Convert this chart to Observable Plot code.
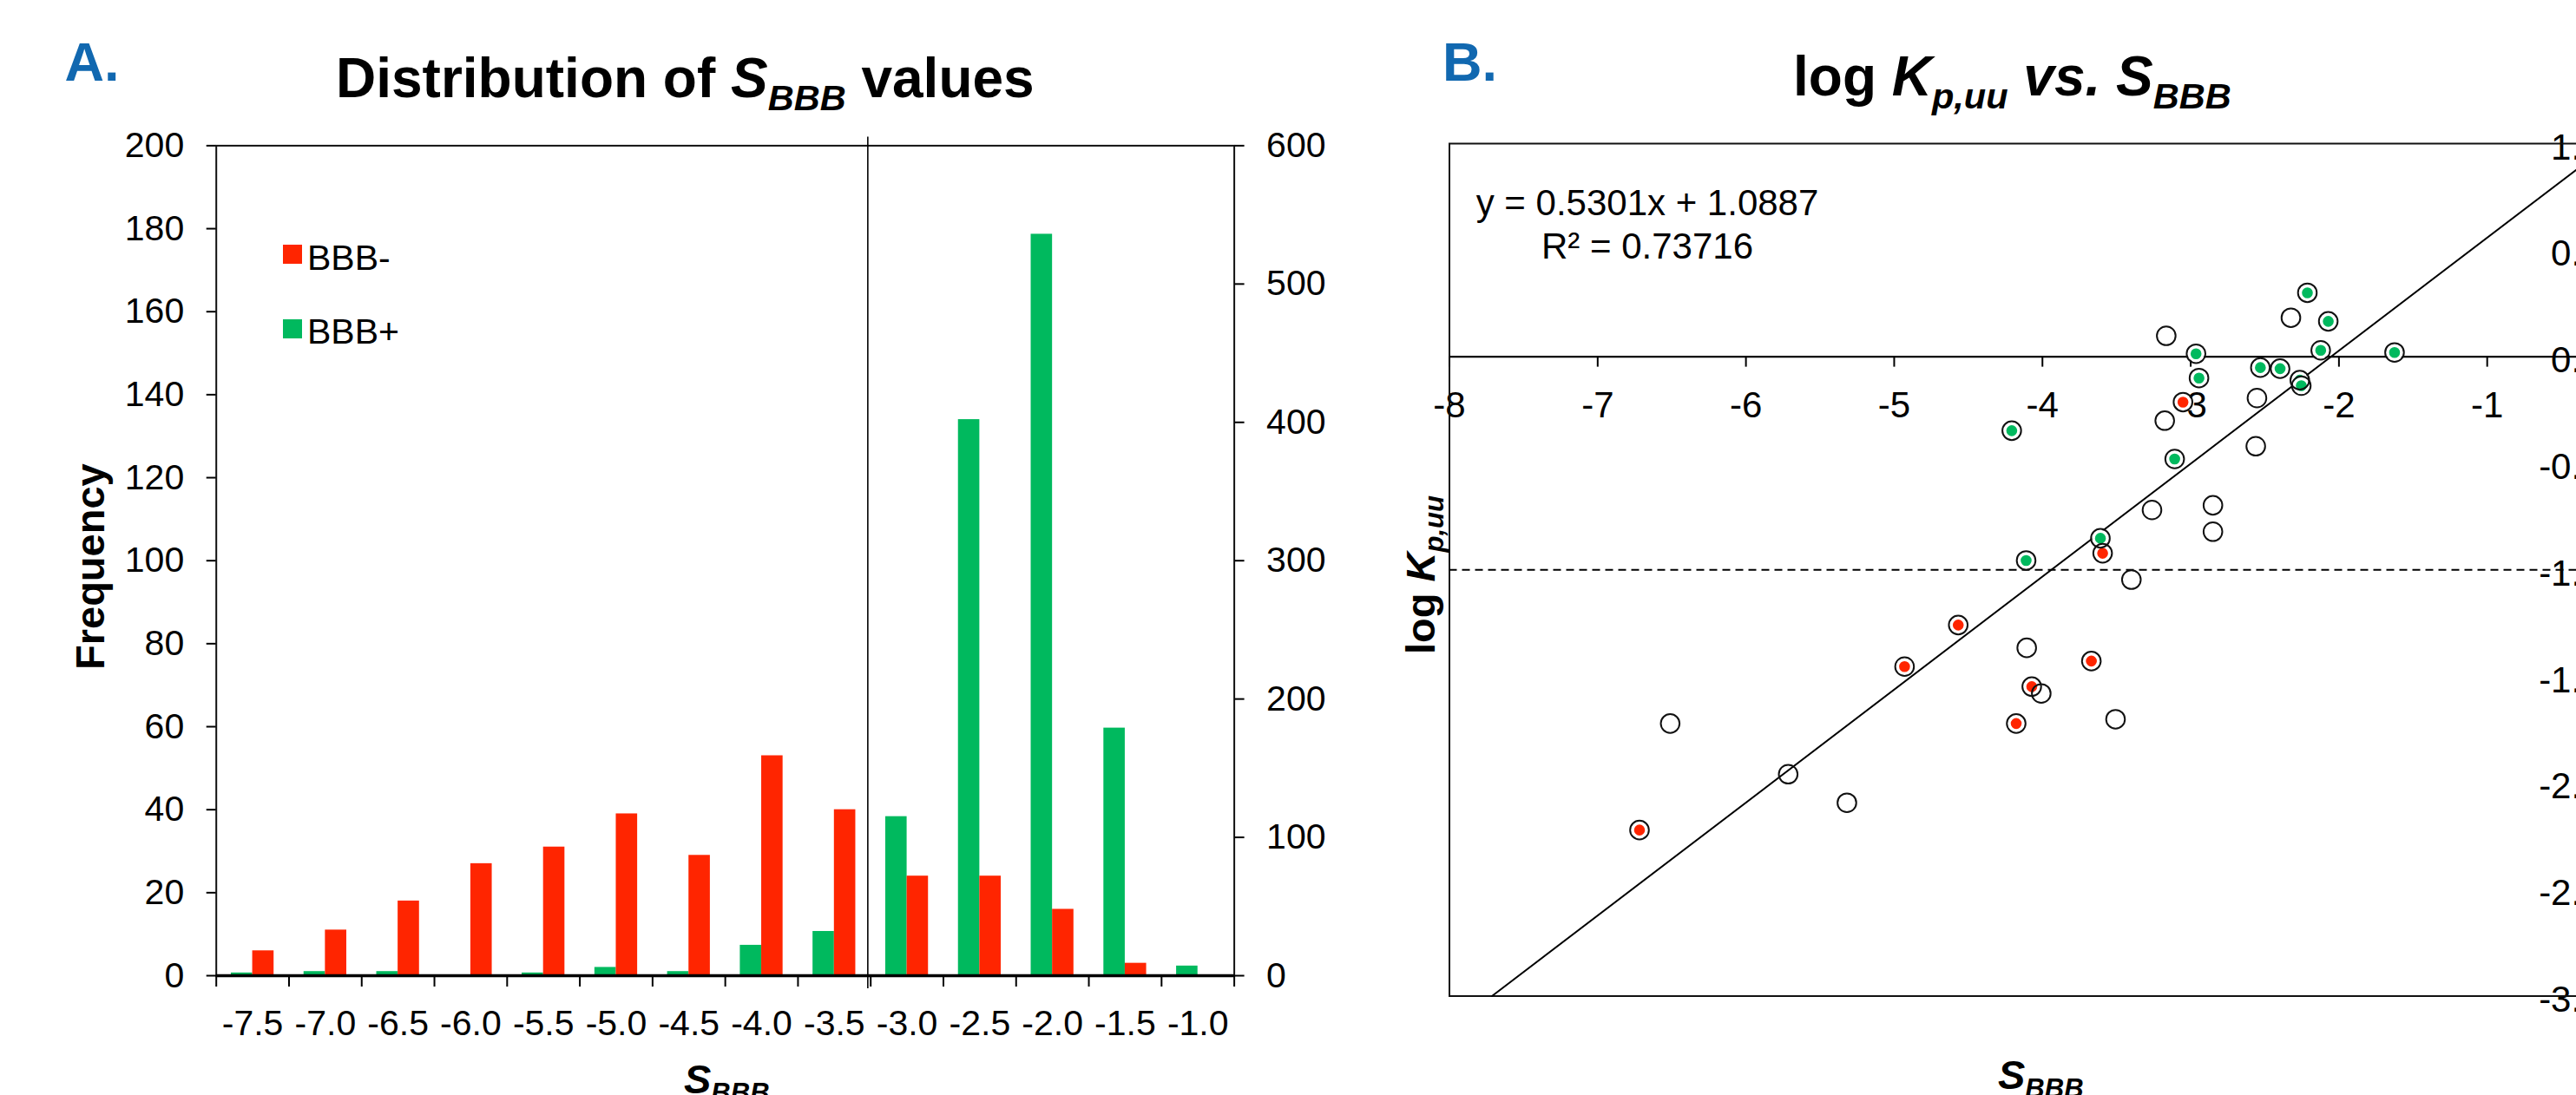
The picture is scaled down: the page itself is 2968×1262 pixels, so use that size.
<!DOCTYPE html>
<html>
<head>
<meta charset="utf-8">
<script src="https://cdn.jsdelivr.net/npm/d3@7"></script>
<script src="https://cdn.jsdelivr.net/npm/@observablehq/plot@0.6"></script>
<style>
  html, body { margin: 0; padding: 0; background: #fff; overflow: hidden; }
  #page { position: relative; width: 2968px; height: 1262px; overflow: hidden; background: #fff; }
</style>
</head>
<body>
<div id="page"></div>
<script>
// ---------------- Panel A data: distribution of S_BBB ----------------
const sbbbBins = [-7.5, -7.0, -6.5, -6.0, -5.5, -5.0, -4.5, -4.0, -3.5, -3.0, -2.5, -2.0, -1.5, -1.0];
const binLabels = ["-7.5", "-7.0", "-6.5", "-6.0", "-5.5", "-5.0", "-4.5", "-4.0", "-3.5", "-3.0", "-2.5", "-2.0", "-1.5", "-1.0"];
const binEdges = [-7.75, -7.25, -6.75, -6.25, -5.75, -5.25, -4.75, -4.25, -3.75, -3.25, -2.75, -2.25, -1.75, -1.25, -0.75];
const countBBBminus = [6, 11, 18, 27, 31, 39, 29, 53, 40, 24, 24, 16, 3, 0];      // left axis
const countBBBplus = [2, 3, 3, 0, 2, 6, 3, 22, 32, 115, 402, 536, 179, 7];       // right axis
const freqTicksLeft = [0, 20, 40, 60, 80, 100, 120, 140, 160, 180, 200];
const freqTicksRight = [0, 100, 200, 300, 400, 500, 600];
const rightFactor = 3; // 600 / 200
const sbbbDivider = -3.27;

// ---------------- Panel B data: log Kp,uu vs S_BBB ----------------
const sbbb = [-4.207, -2.964, -2.944, -3.052, -3.165, -3.175, -3.108, -2.553, -2.561, -2.530,
              -2.397, -2.264, -2.254, -2.123, -2.213, -2.324, -2.072, -1.625, -3.261, -2.850,
              -2.850, -3.609, -3.594, -4.110, -3.400, -4.106, -3.670, -4.072, -4.008, -4.568,
              -4.930, -4.177, -6.511, -5.715, -5.319, -6.718, -3.507];
const logKpuu = [-0.347, 0.014, -0.100, -0.213, 0.098, -0.300, -0.480, -0.194, -0.420, -0.051,
                 -0.056, -0.110, -0.136, 0.030, 0.300, 0.183, 0.166, 0.020, -0.719, -0.697,
                 -0.821, -0.852, -0.922, -0.956, -1.046, -1.366, -1.428, -1.548, -1.580, -1.259,
                 -1.454, -1.721, -1.721, -1.959, -2.093, -2.221, -1.701];
const bbbClass = ["+", "+", "+", "-", "", "", "+", "", "", "+",
                  "+", "+", "+", "+", "+", "", "+", "+", "", "",
                  "", "+", "-", "+", "", "", "-", "-", "", "-",
                  "-", "-", "", "", "", "-", ""];
const xTicksB = [-8, -7, -6, -5, -4, -3, -2, -1];
const xTickLabelsB = ["-8", "-7", "-6", "-5", "-4", "-3", "-2", "-1"];
const yTicksB = [1, 0.5, 0, -0.5, -1, -1.5, -2, -2.5, -3];
const yTickLabelsB = ["1.0", "0.5", "0.0", "-0.5", "-1.0", "-1.5", "-2.0", "-2.5", "-3.0"];
const trendSlope = 0.5301;
const trendIntercept = 1.0887;
const kpuuThreshold = -1;

// ---------------- styles ----------------
const FONT = "'Liberation Sans', Arial, Helvetica, sans-serif";
const RED = "#ff2500";
const GREEN = "#00b95e";
const BLUE = "#1168b0";
const BAR_W = 0.147;

const page = document.getElementById("page");

// ---------------- Panel A ----------------
const rowsA = sbbbBins.map((c, i) => ({cat: c, minus: countBBBminus[i], plus: countBBBplus[i]}));
const binLabelMap = new Map(sbbbBins.map((c, i) => [c, binLabels[i]]));

const plotA = Plot.plot({
  width: 1560, height: 1262,
  marginLeft: 248.7, marginRight: 138.4, marginTop: 167.4, marginBottom: 138,
  x: {type: "linear", domain: [-7.75, -0.75]},
  y: {type: "linear", domain: [0, 200]},
  style: {fontFamily: FONT, fontSize: "41px", background: "transparent", color: "#000", overflow: "visible"},
  marks: [
    Plot.rect(rowsA, {x1: d => d.cat - BAR_W, x2: d => d.cat, y1: 0, y2: d => d.plus / rightFactor, fill: GREEN}),
    Plot.rect(rowsA, {x1: d => d.cat, x2: d => d.cat + BAR_W, y1: 0, y2: d => d.minus, fill: RED}),
    Plot.frame({stroke: "#111", strokeWidth: 2}),
    Plot.ruleY([0], {stroke: "#000", strokeWidth: 3.5}),
    Plot.ruleX([sbbbDivider], {y1: 200, y2: 0, insetTop: -10, insetBottom: -15, stroke: "#000", strokeWidth: 1.6}),
    Plot.axisY({anchor: "left", ticks: freqTicksLeft, tickSize: 11, tickPadding: 26, label: null,
                strokeWidth: 2, fontSize: 41, tickFormat: d => String(d)}),
    Plot.axisY({anchor: "right", ticks: freqTicksRight.map(v => v / rightFactor), tickSize: 11, tickPadding: 26,
                label: null, strokeWidth: 2, fontSize: 41, tickFormat: d => String(Math.round(d * rightFactor))}),
    Plot.axisX({anchor: "bottom", ticks: binEdges, tickSize: 13, tickFormat: () => "", label: null, strokeWidth: 2}),
    Plot.axisX({anchor: "bottom", ticks: sbbbBins, tickSize: 0, tickPadding: 39, label: null, fontSize: 41,
                tickFormat: d => binLabelMap.get(d)})
  ]
});
plotA.style.position = "absolute";
plotA.style.left = "0px";
plotA.style.top = "0px";
plotA.style.maxWidth = "none";
page.appendChild(plotA);

// ---------------- Panel B ----------------
const pts = sbbb.map((x, i) => ({x, y: logKpuu[i], cls: bbbClass[i]}));
const classed = pts.filter(d => d.cls !== "");
const trend = [-3, 1].map(y => ({y, x: (y - trendIntercept) / trendSlope}));

const plotB = Plot.plot({
  width: 1640, height: 1262,
  marginLeft: 109.5, marginRight: 164, marginTop: 165, marginBottom: 114.5,
  x: {type: "linear", domain: [-8, 0], axis: null},
  y: {type: "linear", domain: [-3, 1], axis: null},
  style: {fontFamily: FONT, fontSize: "42px", background: "transparent", color: "#000", overflow: "visible"},
  marks: [
    Plot.text(xTicksB, {x: d => d, y: 0, text: (d, i) => xTickLabelsB[i], dy: 56, fontSize: 42, fill: "#000"}),
    Plot.text(yTicksB, {x: 0, y: d => d, text: (d, i) => yTickLabelsB[i], textAnchor: "end", dx: -39, dy: 4.6, fontSize: 42, fill: "#000"}),
    Plot.frame({stroke: "#111", strokeWidth: 2}),
    Plot.ruleY([kpuuThreshold], {stroke: "#000", strokeWidth: 2, strokeDasharray: "9,6"}),
    Plot.ruleY([0], {stroke: "#000", strokeWidth: 2.3}),
    Plot.ruleX(xTicksB, {x: d => d, y1: 0, y2: 0, insetBottom: -12, stroke: "#000", strokeWidth: 2}),
    Plot.line(trend, {x: "x", y: "y", stroke: "#000", strokeWidth: 2}),
    Plot.dot(classed, {x: "x", y: "y", r: 8, fill: d => d.cls === "+" ? GREEN : RED, stroke: "#fff", strokeWidth: 3.4}),
    Plot.dot(pts, {x: "x", y: "y", r: 10.8, fill: "none", stroke: "#111", strokeWidth: 2})
  ]
});
plotB.style.position = "absolute";
plotB.style.left = "1560px";
plotB.style.top = "0px";
plotB.style.maxWidth = "none";
page.appendChild(plotB);

// ---------------- Titles, labels, legend (overlay) ----------------
const ov = d3.create("svg")
  .attr("width", 2968).attr("height", 1262)
  .style("position", "absolute").style("left", "0px").style("top", "0px")
  .style("font-family", FONT).style("white-space", "pre").style("overflow", "visible");

function rich(x, y, parts, {anchor = "start", rotate = 0, fill = "#000"} = {}) {
  const t = ov.append("text")
    .attr("transform", `translate(${x},${y}) rotate(${rotate})`)
    .attr("text-anchor", anchor).attr("fill", fill)
    .attr("xml:space", "preserve");
  for (const p of parts) {
    t.append("tspan")
      .attr("font-size", p.size)
      .attr("font-weight", p.bold ? "bold" : "normal")
      .attr("font-style", p.italic ? "italic" : "normal")
      .attr("dy", p.dy || 0)
      .text(p.text);
  }
}

// Panel letters
rich(74.6, 93.3, [{text: "A.", size: 63, bold: true}], {fill: BLUE});
rich(1662, 93.3, [{text: "B.", size: 63, bold: true}], {fill: BLUE});

// Titles
rich(387, 111.7, [
  {text: "Distribution of ", size: 64, bold: true},
  {text: "S", size: 64, bold: true, italic: true},
  {text: "BBB", size: 41.5, bold: true, italic: true, dy: 15},
  {text: " values", size: 64, bold: true, dy: -15}
]);
rich(2066, 110, [
  {text: "log ", size: 64, bold: true},
  {text: "K", size: 64, bold: true, italic: true},
  {text: "p,uu", size: 41.5, bold: true, italic: true, dy: 15},
  {text: " vs. ", size: 64, bold: true, italic: true, dy: -15},
  {text: "S", size: 64, bold: true, italic: true},
  {text: "BBB", size: 41.5, bold: true, italic: true, dy: 15}
]);

// Axis titles
rich(119.7, 772, [{text: "Frequency", size: 47, bold: true}], {rotate: -90});
rich(788, 1260.3, [
  {text: "S", size: 47, bold: true, italic: true},
  {text: "BBB", size: 31, bold: true, italic: true, dy: 10}
]);
rich(2302, 1255.3, [
  {text: "S", size: 47, bold: true, italic: true},
  {text: "BBB", size: 31, bold: true, italic: true, dy: 10}
]);
rich(1653, 754, [
  {text: "log ", size: 47, bold: true},
  {text: "K", size: 47, bold: true, italic: true},
  {text: "p,uu", size: 31, bold: true, italic: true, dy: 10}
], {rotate: -90});

// Legend (panel A)
ov.append("rect").attr("x", 326).attr("y", 282).attr("width", 22).attr("height", 22).attr("fill", RED);
ov.append("rect").attr("x", 326).attr("y", 368).attr("width", 22).attr("height", 22).attr("fill", GREEN);
rich(354, 310.5, [{text: "BBB-", size: 41}]);
rich(354, 395.5, [{text: "BBB+", size: 41}]);

// Trendline equation (panel B)
rich(1898, 248, [{text: "y = 0.5301x + 1.0887", size: 42}], {anchor: "middle"});
rich(1898, 298.3, [{text: "R² = 0.73716", size: 42}], {anchor: "middle"});

page.appendChild(ov.node());
</script>
</body>
</html>
